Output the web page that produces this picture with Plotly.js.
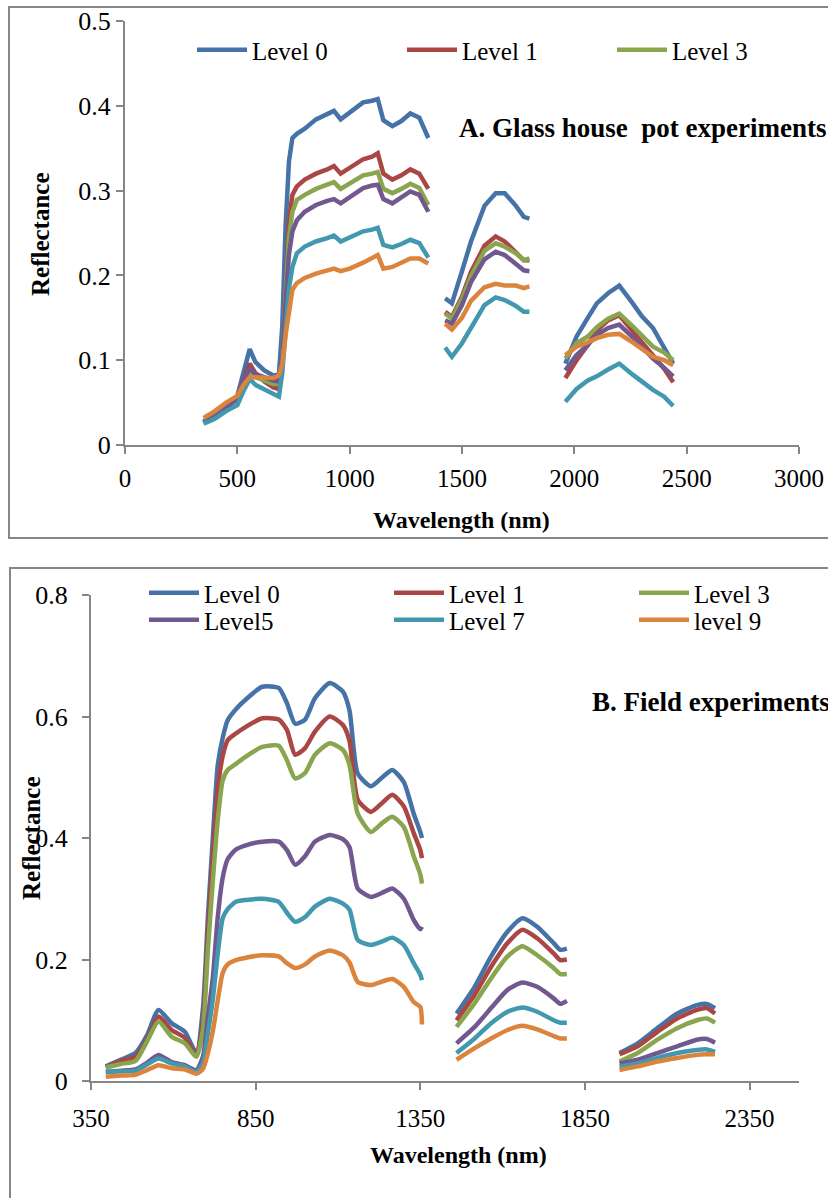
<!DOCTYPE html>
<html><head><meta charset="utf-8">
<script src="https://cdn.plot.ly/plotly-3.0.1.min.js"></script>
<style>html,body{margin:0;padding:0;background:#fff}#chart{width:828px;height:1198px}</style>
</head><body><div id="chart"></div>
<script>
const seriesNames = ['Level 0','Level 1','Level 3','Level5','Level 7','level 9'];
const seriesColors = ['#4572A7','#AA4643','#89A54E','#71588F','#4198AF','#DB843D'];

// Panel A: glass house pot experiments (null = detector gap)
const wlA = [350,400,450,500,530,555,580,620,660,685,700,715,730,745,765,800,850,900,930,960,1000,1060,1100,1125,1150,1190,1230,1270,1310,1350,
  1390,
  1425,1455,1500,1540,1600,1650,1690,1740,1775,1800,
  1880,
  1960,2010,2060,2100,2150,2200,2260,2300,2350,2400,2440];
const a_level0 = [0.028,0.036,0.045,0.058,0.090,0.113,0.098,0.088,0.082,0.083,0.140,0.260,0.335,0.362,0.367,0.373,0.384,0.390,0.394,0.384,0.392,0.404,0.406,0.408,0.383,0.376,0.382,0.391,0.386,0.362,
  null, 0.173,0.167,0.205,0.240,0.282,0.297,0.297,0.282,0.269,0.267,
  null, 0.096,0.128,0.150,0.167,0.179,0.188,0.167,0.152,0.138,0.116,0.096];
const a_level1 = [0.027,0.036,0.046,0.057,0.080,0.096,0.085,0.075,0.068,0.066,0.100,0.190,0.265,0.295,0.305,0.313,0.320,0.325,0.329,0.320,0.327,0.337,0.340,0.344,0.320,0.313,0.318,0.325,0.320,0.302,
  null, 0.157,0.151,0.175,0.204,0.235,0.246,0.240,0.228,0.218,0.218,
  null, 0.079,0.100,0.118,0.135,0.147,0.153,0.134,0.122,0.105,0.090,0.074];
const a_level3 = [0.027,0.035,0.045,0.056,0.076,0.086,0.080,0.076,0.072,0.072,0.100,0.180,0.245,0.275,0.289,0.295,0.302,0.307,0.310,0.302,0.308,0.318,0.320,0.322,0.302,0.297,0.302,0.308,0.303,0.283,
  null, 0.155,0.149,0.172,0.199,0.229,0.238,0.234,0.226,0.218,0.220,
  null, 0.102,0.120,0.128,0.139,0.149,0.155,0.140,0.130,0.116,0.109,0.100];
const a_level5 = [0.026,0.034,0.044,0.054,0.078,0.090,0.084,0.080,0.076,0.075,0.100,0.170,0.225,0.252,0.265,0.275,0.283,0.288,0.290,0.285,0.292,0.303,0.306,0.307,0.290,0.285,0.292,0.299,0.295,0.275,
  null, 0.147,0.143,0.165,0.192,0.219,0.228,0.224,0.214,0.206,0.205,
  null, 0.088,0.106,0.118,0.130,0.138,0.142,0.127,0.116,0.102,0.091,0.081];
const a_level7 = [0.025,0.031,0.040,0.047,0.065,0.078,0.071,0.066,0.061,0.057,0.085,0.140,0.185,0.210,0.226,0.234,0.240,0.244,0.247,0.240,0.245,0.252,0.254,0.256,0.236,0.233,0.237,0.242,0.238,0.221,
  null, 0.115,0.104,0.120,0.139,0.165,0.174,0.171,0.164,0.157,0.157,
  null, 0.051,0.066,0.076,0.081,0.089,0.096,0.083,0.075,0.065,0.057,0.046];
const a_level9 = [0.032,0.040,0.050,0.058,0.072,0.080,0.080,0.079,0.079,0.082,0.095,0.130,0.160,0.183,0.191,0.197,0.202,0.205,0.208,0.205,0.208,0.215,0.220,0.224,0.208,0.210,0.215,0.220,0.220,0.214,
  null, 0.143,0.136,0.150,0.170,0.186,0.190,0.188,0.188,0.185,0.187,
  null, 0.106,0.116,0.121,0.126,0.130,0.131,0.121,0.113,0.104,0.100,0.094];

// Panel B: field experiments
const wlB = [395,440,485,520,555,595,635,670,690,705,720,735,750,765,790,820,870,920,945,970,1000,1030,1075,1115,1135,1160,1200,1235,1265,1300,1330,1350,1355,
  1400,
  1460,1515,1565,1615,1660,1705,1755,1775,1795,
  1880,
  1955,2010,2070,2130,2190,2220,2245];
const b_level0 = [0.024,0.035,0.046,0.075,0.117,0.095,0.081,0.046,0.120,0.270,0.400,0.520,0.565,0.594,0.612,0.628,0.649,0.647,0.622,0.588,0.595,0.630,0.655,0.641,0.610,0.506,0.485,0.500,0.512,0.492,0.440,0.410,0.400,
  null, 0.111,0.155,0.205,0.246,0.268,0.254,0.227,0.216,0.218,
  null, 0.046,0.062,0.087,0.111,0.125,0.127,0.120];
const b_level1 = [0.022,0.033,0.040,0.068,0.106,0.084,0.071,0.043,0.100,0.245,0.370,0.480,0.535,0.561,0.572,0.583,0.597,0.595,0.578,0.537,0.548,0.575,0.600,0.586,0.560,0.463,0.443,0.458,0.471,0.452,0.408,0.380,0.367,
  null, 0.100,0.142,0.188,0.227,0.249,0.235,0.210,0.199,0.200,
  null, 0.044,0.057,0.081,0.103,0.117,0.120,0.111];
const b_level3 = [0.022,0.028,0.033,0.065,0.098,0.073,0.062,0.040,0.085,0.216,0.330,0.430,0.495,0.512,0.522,0.534,0.550,0.552,0.528,0.498,0.507,0.537,0.556,0.545,0.520,0.440,0.410,0.425,0.435,0.418,0.370,0.340,0.325,
  null, 0.089,0.128,0.169,0.205,0.222,0.207,0.186,0.176,0.176,
  null, 0.032,0.046,0.068,0.087,0.100,0.103,0.096];
const b_level5 = [0.015,0.017,0.019,0.030,0.043,0.031,0.026,0.018,0.040,0.106,0.170,0.270,0.335,0.365,0.381,0.388,0.394,0.394,0.380,0.356,0.370,0.394,0.405,0.398,0.385,0.317,0.303,0.310,0.317,0.300,0.265,0.250,0.254,
  null, 0.062,0.089,0.120,0.150,0.162,0.155,0.136,0.127,0.132,
  null, 0.029,0.035,0.046,0.057,0.068,0.069,0.063];
const b_level7 = [0.015,0.016,0.017,0.027,0.037,0.029,0.024,0.015,0.030,0.079,0.135,0.210,0.268,0.283,0.295,0.298,0.300,0.295,0.277,0.262,0.270,0.287,0.300,0.292,0.282,0.232,0.224,0.230,0.236,0.224,0.194,0.175,0.166,
  null, 0.046,0.070,0.095,0.114,0.121,0.114,0.100,0.096,0.096,
  null, 0.024,0.029,0.038,0.046,0.051,0.052,0.048];
const b_level9 = [0.007,0.009,0.010,0.018,0.026,0.021,0.019,0.012,0.020,0.046,0.082,0.133,0.178,0.192,0.199,0.203,0.207,0.205,0.194,0.186,0.192,0.205,0.215,0.207,0.195,0.163,0.158,0.164,0.168,0.155,0.130,0.122,0.093,
  null, 0.035,0.054,0.070,0.084,0.091,0.085,0.074,0.070,0.070,
  null, 0.018,0.024,0.032,0.038,0.043,0.044,0.044];

const ticksA = [0,500,1000,1500,2000,2500,3000];
const ticksB = [350,850,1350,1850,2350];

const seriesA = [a_level0,a_level1,a_level3,a_level5,a_level7,a_level9];
const seriesB = [b_level0,b_level1,b_level3,b_level5,b_level7,b_level9];

const W = 828, H = 1198;
const px = v => v / W;
const py = v => 1 - v / H;
const FONT = 'Liberation Serif, Times New Roman, serif';
const AXC = '#868686';

// one small legend per visible entry so each sits where the reference shows it
const legendA = ['legend','legend2','legend3'];
const legendB = ['legend4','legend5','legend6','legend7','legend8','legend9'];

const traces = [];
seriesA.forEach((ys, i) => {
  traces.push({
    x: wlA, y: ys, type: 'scatter', mode: 'lines', name: seriesNames[i],
    xaxis: 'x', yaxis: 'y', line: {color: seriesColors[i], width: 4.5},
    showlegend: i < 3, legend: i < 3 ? legendA[i] : 'legend', hoverinfo: 'x+y'
  });
});
seriesB.forEach((ys, i) => {
  traces.push({
    x: wlB, y: ys, type: 'scatter', mode: 'lines', name: seriesNames[i],
    xaxis: 'x2', yaxis: 'y2', line: {color: seriesColors[i], width: 4.5, shape: 'spline', smoothing: 0.6},
    legend: legendB[i], hoverinfo: 'x+y'
  });
});

const axisBase = {
  showgrid: false, zeroline: false, showline: true, linecolor: AXC, linewidth: 2,
  ticks: 'outside', ticklen: 7, tickwidth: 2, tickcolor: AXC, fixedrange: true
};
const legendBase = {
  orientation: 'v', xanchor: 'left', yanchor: 'middle', bgcolor: 'rgba(0,0,0,0)',
  font: {family: FONT, size: 25, color: '#000'}, itemwidth: 50,
  tracegroupgap: 0, borderwidth: 0
};
const legendPos = {
  legend:  [192, 50],  legend2: [402, 50],  legend3: [612, 50],
  legend4: [144, 593], legend5: [389, 593], legend6: [634, 593],
  legend7: [144, 620], legend8: [389, 620], legend9: [634, 620]
};

const layout = {
  width: W, height: H, margin: {l: 0, r: 0, t: 0, b: 0, autoexpand: false},
  paper_bgcolor: '#fff', plot_bgcolor: 'rgba(0,0,0,0)',
  xaxis: Object.assign({}, axisBase, {domain: [px(125), px(799)], range: [0, 3000], tickvals: ticksA, anchor: 'y', ticklabelstandoff: 3,
    tickfont: {family: FONT, size: 25, color: '#000'}}),
  yaxis: Object.assign({}, axisBase, {domain: [py(445), py(21)], range: [0, 0.5], dtick: 0.1, anchor: 'x', ticklabelstandoff: 0,
    tickfont: {family: FONT, size: 26, color: '#000'}}),
  xaxis2: Object.assign({}, axisBase, {domain: [px(91), px(799)], range: [350, 2500], tickvals: ticksB, anchor: 'y2', ticklabelstandoff: 7,
    tickfont: {family: FONT, size: 25, color: '#000'}}),
  yaxis2: Object.assign({}, axisBase, {domain: [py(1081), py(595)], range: [0, 0.8], dtick: 0.2, anchor: 'x2', ticklabelstandoff: 9,
    tickfont: {family: FONT, size: 26, color: '#000'}}),
  shapes: [
    {type: 'rect', xref: 'paper', yref: 'paper', x0: px(9), x1: px(835), y0: py(538), y1: py(7), line: {color: AXC, width: 2}},
    {type: 'rect', xref: 'paper', yref: 'paper', x0: px(10), x1: px(835), y0: py(1210), y1: py(568), line: {color: AXC, width: 2}}
  ],
  annotations: [
    {text: 'A. Glass house\u00a0 pot experiments', xref: 'paper', yref: 'paper', x: px(457), y: py(128), xanchor: 'left', yanchor: 'middle', showarrow: false, font: {family: FONT, size: 27, color: '#000', weight: 'bold'}},
    {text: 'B. Field experiments', xref: 'paper', yref: 'paper', x: px(590), y: py(702), xanchor: 'left', yanchor: 'middle', showarrow: false, font: {family: FONT, size: 27, color: '#000', weight: 'bold'}},
    {text: 'Reflectance', xref: 'paper', yref: 'paper', x: px(40), y: py(234), xanchor: 'center', yanchor: 'middle', textangle: -90, showarrow: false, font: {family: FONT, size: 25, color: '#000', weight: 'bold'}},
    {text: 'Reflectance', xref: 'paper', yref: 'paper', x: px(31), y: py(838), xanchor: 'center', yanchor: 'middle', textangle: -90, showarrow: false, font: {family: FONT, size: 25, color: '#000', weight: 'bold'}},
    {text: 'Wavelength (nm)', xref: 'paper', yref: 'paper', x: px(461), y: py(520), xanchor: 'center', yanchor: 'middle', showarrow: false, font: {family: FONT, size: 24, color: '#000', weight: 'bold'}},
    {text: 'Wavelength (nm)', xref: 'paper', yref: 'paper', x: px(458), y: py(1155), xanchor: 'center', yanchor: 'middle', showarrow: false, font: {family: FONT, size: 24, color: '#000', weight: 'bold'}}
  ]
};
Object.keys(legendPos).forEach(id => {
  layout[id] = Object.assign({}, legendBase, {x: px(legendPos[id][0]), y: py(legendPos[id][1])});
});

Plotly.newPlot('chart', traces, layout, {displayModeBar: false, staticPlot: true});
</script></body></html>
